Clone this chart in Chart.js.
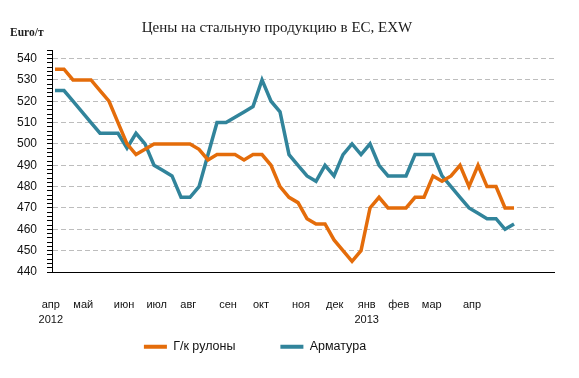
<!DOCTYPE html>
<html>
<head>
<meta charset="utf-8">
<script src="https://cdn.jsdelivr.net/npm/chart.js@4"></script>
<style>
html,body{margin:0;padding:0;background:#fff;}
#wrap{width:579px;height:378px;}
</style>
</head>
<body>
<div id="wrap"><canvas id="c" width="579" height="378"></canvas></div>
<script>
// Weekly prices, EUR/t (April 2012 – March 2013), 52 weeks
const hotRolledCoil = [535,535,530,530,530,525,520,510,500,495,497.5,500,500,500,500,500,497.5,492.5,495,495,495,492.5,495,495,490,480,475,472.5,465,462.5,462.5,455,450,445,450,470,475,470,470,470,475,475,485,482.5,485,490,480,490,480,480,470,470];
const rebar = [525,525,520,515,510,505,505,505,498,505,500,490,487.5,485,475,475,480,495,510,510,512.5,515,517.5,530,520,515,495,490,485,482.5,490,485,495,500,495,500,490,485,485,485,495,495,495,485,480,475,470,467.5,465,465,460,462.5];
const seriesNames = ['Г/к рулоны','Арматура'];
// Month tick labels and the week index at which each label sits
const monthLabels = [['апр','2012'],'май','июн','июл','авг','сен','окт','ноя','дек',['янв','2013'],'фев','мар','апр'];
const monthWeeks = [-0.47,3.14,7.67,11.3,14.81,19.22,22.89,27.33,31.08,34.63,38.19,41.86,46.33];
const yTickStep = 2, yMin = 440, yMax = 544;

const toXY = arr => arr.map((v,i)=>({x:i,y:v}));
const ORANGE = '#E46C0A', TEAL = '#31849B';
const X_AXIS_H = 60;

const extras = {
  id:'extras',
  afterLayout(chart){
    const lg = chart.legend;
    if(!lg) return;
    lg.left = 0; lg.right = 510;
    lg.top = 295.5; lg.bottom = chart.height;
  },
  afterDraw(chart){
    const ctx = chart.ctx;
    ctx.save();
    ctx.font = 'bold 11.5px "Liberation Serif", serif';
    ctx.fillStyle = '#1f1f1f';
    ctx.textBaseline = 'middle';
    ctx.textAlign = 'left';
    ctx.fillText('Euro/т', 10, 33);
    ctx.restore();
  }
};

new Chart(document.getElementById('c'), {
  type:'line',
  data:{
    datasets:[
      {label:seriesNames[0], data:toXY(hotRolledCoil), borderColor:ORANGE, backgroundColor:ORANGE, borderWidth:3.5, pointRadius:0, tension:0, fill:false},
      {label:seriesNames[1], data:toXY(rebar), borderColor:TEAL, backgroundColor:TEAL, borderWidth:3.5, pointRadius:0, tension:0, fill:false}
    ]
  },
  options:{
    responsive:false,
    animation:false,
    layout:{padding:{left:0,right:25,top:0,bottom:0}},
    plugins:{
      title:{display:true, text:'Цены на стальную продукцию в ЕС, EXW', color:'#1a1a1a',
        font:{family:'"Liberation Serif", serif', size:15, weight:'normal', lineHeight:1.2},
        padding:{top:19,bottom:13}},
      legend:{position:'bottom', maxHeight:378-272-X_AXIS_H,
        labels:{boxWidth:23, boxHeight:4, padding:45, color:'#111',
          font:{family:'"Liberation Sans", Arial, sans-serif', size:12.5},
          generateLabels:(chart)=>Chart.defaults.plugins.legend.labels.generateLabels(chart).map(l=>Object.assign(l,{lineWidth:0}))}},
      tooltip:{enabled:false}
    },
    scales:{
      x:{type:'linear', min:-1/3, max:55.44,
        grid:{display:false},
        border:{display:true, color:'#000', width:1},
        afterBuildTicks:(s)=>{ s.ticks = monthWeeks.map(v=>({value:v})); },
        afterFit:(s)=>{ s.height = X_AXIS_H; },
        ticks:{autoSkip:false, maxRotation:0, minRotation:0, padding:17.5, color:'#111',
          font:{family:'"Liberation Sans", Arial, sans-serif', size:11, lineHeight:1.38},
          callback:(v,i)=>monthLabels[i]}
      },
      y:{min:yMin, max:yMax,
        afterFit:(s)=>{ s.width = 52; },
        border:{display:true, color:'#000', width:1, dash:[5,3]},
        grid:{drawTicks:true, tickLength:5, tickColor:'#000', tickBorderDash:[], lineWidth:1,
          color:(c)=> (c.tick && c.tick.value%10===0 && c.tick.value!==yMin) ? '#bdbdbd' : 'rgba(0,0,0,0)'},
        ticks:{stepSize:yTickStep, autoSkip:false, padding:10, color:'#111',
          font:{family:'"Liberation Sans", Arial, sans-serif', size:12},
          callback:(v)=> v%10===0 ? String(v) : ''}
      }
    }
  },
  plugins:[extras]
});
</script>
</body>
</html>
